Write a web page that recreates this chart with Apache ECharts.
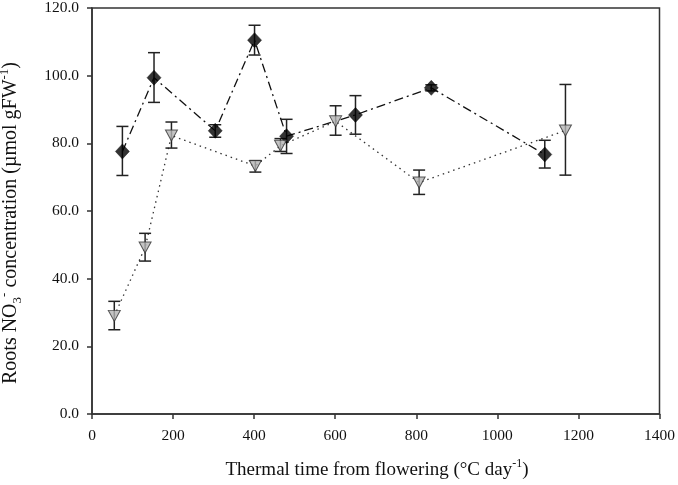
<!DOCTYPE html>
<html>
<head>
<meta charset="utf-8">
<script src="https://cdn.jsdelivr.net/npm/echarts@6/dist/echarts.min.js"></script>
<style>html,body{margin:0;padding:0;background:#fff}#c{width:678px;height:485px}</style>
</head>
<body>
<div id="c"></div>
<script>
// Series A: black diamonds (dash-dot line)
var xA = [75, 153, 304, 401, 480, 650, 837, 1117];
var yA = [77.6, 99.4, 83.7, 110.5, 82.1, 88.4, 96.4, 76.7];
var loA = [70.5, 92.1, 81.8, 106.1, 77.0, 82.7, 95.5, 72.7];
var hiA = [85.0, 106.8, 85.5, 114.9, 87.1, 94.1, 97.3, 80.9];
// Series B: grey down triangles (dotted line)
var xB = [55, 131, 196, 403, 465, 601, 807, 1168];
var yB = [29.0, 49.2, 82.3, 73.3, 79.3, 86.5, 68.4, 83.8];
var loB = [24.9, 45.2, 78.6, 71.5, 77.6, 82.4, 64.9, 70.6];
var hiB = [33.3, 53.4, 86.3, 74.9, 81.4, 91.1, 72.1, 97.4];
var xTicks = [0, 200, 400, 600, 800, 1000, 1200, 1400];
var yTicks = [0, 20, 40, 60, 80, 100, 120];

function pairs(xs, ys){ return xs.map(function(x,i){return [x, ys[i]];}); }
function errs(xs, lo, hi){ return xs.map(function(x,i){return [x, lo[i], hi[i]];}); }

function errRender(params, api){
  var x = api.value(0);
  var p1 = api.coord([x, api.value(1)]);
  var p2 = api.coord([x, api.value(2)]);
  var w = 6;
  var st = {stroke:'#222', lineWidth:1.5};
  return {type:'group', children:[
    {type:'line', shape:{x1:p1[0],y1:p1[1],x2:p2[0],y2:p2[1]}, style:st},
    {type:'line', shape:{x1:p1[0]-w,y1:p1[1],x2:p1[0]+w,y2:p1[1]}, style:st},
    {type:'line', shape:{x1:p2[0]-w,y1:p2[1],x2:p2[0]+w,y2:p2[1]}, style:st}
  ]};
}

var font = 'Liberation Serif';
var chart = echarts.init(document.getElementById('c'));
chart.setOption({
  animation:false,
  backgroundColor:'#fff',
  grid:{left:92, right:16, top:6, bottom:71, show:true, borderColor:'#333', borderWidth:1.5},
  graphic:[
    {type:'text', x:377, y:470, z:10,
      style:{text:'{n|Thermal time from flowering (°C day}{sup|-1}{n|)}',
        align:'center', verticalAlign:'middle',
        rich:{
          n:{fontFamily:font, fontSize:19, fill:'#111', lineHeight:24},
          sup:{fontFamily:font, fontSize:12, fill:'#111', verticalAlign:'top', lineHeight:24}
        }}},
    {type:'text', x:11, y:223, rotation:Math.PI/2, z:10,
      style:{text:'{n|Roots NO}{sub|3}{sup|-}{n| concentration (µmol gFW}{sup|-1}{n|)}',
        align:'center', verticalAlign:'middle',
        rich:{
          n:{fontFamily:font, fontSize:20, fill:'#111', lineHeight:26},
          sub:{fontFamily:font, fontSize:13, fill:'#111', verticalAlign:'bottom', lineHeight:26},
          sup:{fontFamily:font, fontSize:13, fill:'#111', verticalAlign:'top', lineHeight:26}
        }}}
  ],
  xAxis:{
    type:'value', min:0, max:1400, interval:200,
    axisLine:{lineStyle:{color:'#333', width:1.5}},
    axisTick:{show:true, length:5, lineStyle:{color:'#333', width:1.5}},
    axisLabel:{fontFamily:font, fontSize:15.5, color:'#111', margin:14,
      formatter:function(v){return xTicks.indexOf(v)>=0 ? String(v) : '';}},
    splitLine:{show:false}
  },
  yAxis:{
    type:'value', min:0, max:120, interval:20,
    axisLine:{show:true, lineStyle:{color:'#333', width:1.5}},
    axisTick:{show:true, length:5, lineStyle:{color:'#333', width:1.5}},
    axisLabel:{fontFamily:font, fontSize:15.5, color:'#111', margin:13,
      formatter:function(v){return yTicks.indexOf(v)>=0 ? v.toFixed(1) : '';}},
    splitLine:{show:false}
  },
  series:[
    {type:'line', data:pairs(xA,yA), symbol:'none', z:2,
      lineStyle:{color:'#111', width:1.3, type:[9,4,2,4]}},
    {type:'line', data:pairs(xB,yB), symbol:'none', z:2,
      lineStyle:{color:'#333', width:1.3, type:[1.5,4]}},
    {type:'custom', data:errs(xA,loA,hiA), renderItem:errRender, z:3},
    {type:'custom', data:errs(xB,loB,hiB), renderItem:errRender, z:3},
    {type:'scatter', data:pairs(xA,yA), symbol:'diamond', symbolSize:[14,15], z:5,
      itemStyle:{color:'#000', borderColor:'#000', borderWidth:0.5}},
    {type:'scatter', data:pairs(xB,yB), symbol:'triangle', symbolRotate:180, symbolSize:[12,11], z:5,
      itemStyle:{color:'#b4b4b4', borderColor:'#333', borderWidth:1}}
  ]
});
</script>
</body>
</html>
